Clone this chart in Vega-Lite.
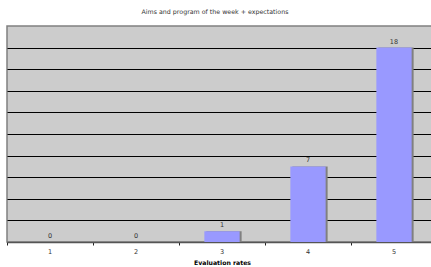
{
  "$schema": "https://vega.github.io/schema/vega-lite/v6.json",
  "autosize": {"type": "none"},
  "width": 430,
  "height": 216,
  "padding": {"left": 7, "top": 26, "right": 0, "bottom": 25},
  "background": "white",
  "config": {
    "font": "DejaVu Sans",
    "view": {"fill": "#CCCCCC", "stroke": "#808080", "strokeWidth": 1.5}
  },
  "title": {
    "text": "Aims and program of the week + expectations",
    "fontSize": 6.3,
    "fontWeight": "normal",
    "color": "#333333",
    "font": "DejaVu Sans",
    "anchor": "middle",
    "dx": -7,
    "offset": 11
  },
  "data": {
    "values": [
      {"rate": "1", "count": 0},
      {"rate": "2", "count": 0},
      {"rate": "3", "count": 1},
      {"rate": "4", "count": 7},
      {"rate": "5", "count": 18}
    ]
  },
  "encoding": {
    "x": {
      "field": "rate",
      "type": "ordinal",
      "scale": {"paddingInner": 0, "paddingOuter": 0},
      "axis": {
        "title": "Evaluation rates",
        "titleFontSize": 6.2,
        "titleFontWeight": "bold",
        "titleColor": "#000000",
        "titlePadding": 5,
        "labelAngle": 0,
        "labelFontSize": 6.5,
        "labelColor": "#333333",
        "labelPadding": 3,
        "bandPosition": 0,
        "ticks": true,
        "tickSize": 3,
        "tickColor": "#222222",
        "domainColor": "#555555",
        "domainWidth": 1.5,
        "grid": false
      }
    },
    "y": {
      "field": "count",
      "type": "quantitative",
      "scale": {"domain": [0, 20], "nice": false},
      "axis": {
        "title": null,
        "labels": false,
        "ticks": false,
        "domain": false,
        "values": [2, 4, 6, 8, 10, 12, 14, 16, 18],
        "grid": true,
        "gridColor": "#000000",
        "gridWidth": 1,
        "gridOpacity": 1
      }
    }
  },
  "layer": [
    {
      "mark": {"type": "bar", "color": "#808080", "xOffset": 2, "width": {"band": 0.41}}
    },
    {
      "mark": {"type": "bar", "color": "#9999FF", "width": {"band": 0.41}}
    },
    {
      "mark": {"type": "text", "baseline": "bottom", "dy": -3, "fontSize": 6.5, "color": "#333333"},
      "encoding": {"text": {"field": "count", "type": "quantitative"}}
    }
  ]
}
